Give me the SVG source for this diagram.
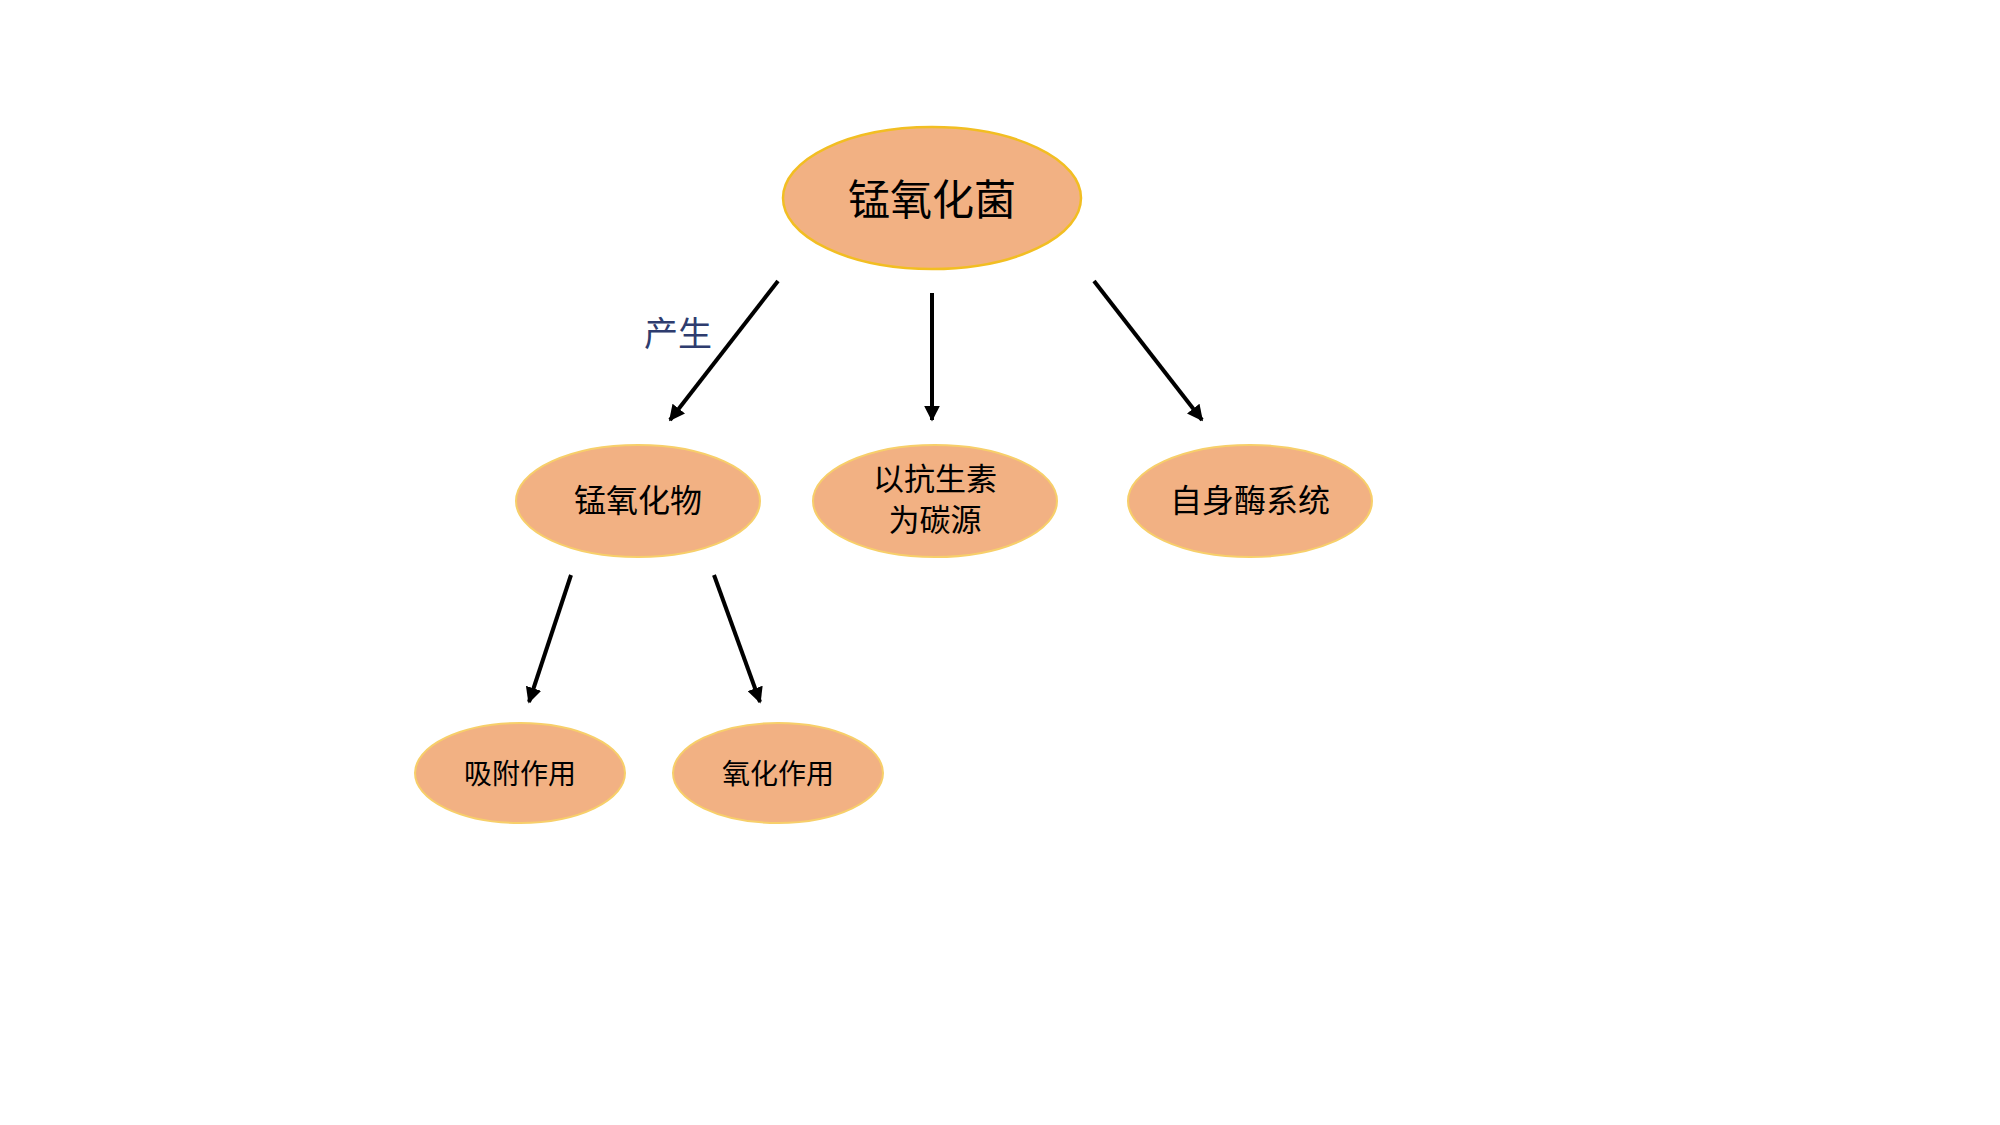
<svg xmlns="http://www.w3.org/2000/svg" width="2000" height="1125" viewBox="0 0 2000 1125">
<defs>
<style>
.node{fill:#F2B183;stroke:#F7CF6A;stroke-width:2}
.root{fill:#F2B183;stroke:#F2BE22;stroke-width:2.5}
.t{font-family:"Noto Sans CJK SC","Noto Sans CJK JP",sans-serif;fill:#000;text-anchor:middle;dominant-baseline:central}
.edge{stroke:#000;stroke-width:4;fill:none;marker-end:url(#ah)}
</style>
<marker id="ah" viewBox="0 0 10 10" refX="9" refY="5" markerWidth="4" markerHeight="4" orient="auto" markerUnits="strokeWidth">
<path d="M0,0 L10,5 L0,10 Z" fill="#000"/>
</marker>
</defs>
<rect width="2000" height="1125" fill="#fff"/>
<g id="connectors">
<line class="edge" x1="778" y1="281" x2="670" y2="420"/>
<line class="edge" x1="932" y1="293" x2="932" y2="420"/>
<line class="edge" x1="1094" y1="281" x2="1202" y2="420"/>
<line class="edge" x1="571" y1="575" x2="529" y2="702"/>
<line class="edge" x1="714" y1="575" x2="760" y2="702"/>
<text x="678" y="331" class="t" style="fill:#2E3C6E;font-size:34px">产生</text>
</g>
<g id="n-root">
<ellipse class="root" cx="932" cy="198" rx="149" ry="71"/>
<text class="t" x="932" y="196" font-size="42">锰氧化菌</text>
</g>
<g id="n-oxide">
<ellipse class="node" cx="638" cy="501" rx="122" ry="56"/>
<text class="t" x="638" y="498" font-size="32">锰氧化物</text>
</g>
<g id="n-antibiotic">
<ellipse class="node" cx="935" cy="501" rx="122" ry="56"/>
<text class="t" x="935" y="476" font-size="31">以抗生素</text>
<text class="t" x="935" y="517" font-size="31">为碳源</text>
</g>
<g id="n-enzyme">
<ellipse class="node" cx="1250" cy="501" rx="122" ry="56"/>
<text class="t" x="1250" y="498" font-size="32">自身酶系统</text>
</g>
<g id="n-adsorb">
<ellipse class="node" cx="520" cy="773" rx="105" ry="50"/>
<text class="t" x="520" y="772" font-size="28">吸附作用</text>
</g>
<g id="n-oxidize">
<ellipse class="node" cx="778" cy="773" rx="105" ry="50"/>
<text class="t" x="778" y="772" font-size="28">氧化作用</text>
</g>
</svg>
